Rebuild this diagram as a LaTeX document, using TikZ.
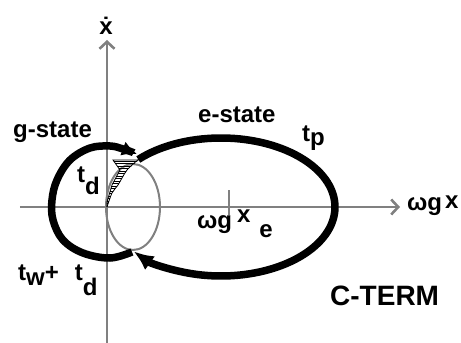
\documentclass[tikz,border=0pt]{standalone}
\usepackage{fontspec}
\setmainfont{Liberation Sans}
\usetikzlibrary{arrows.meta}

\begin{document}
\begin{tikzpicture}[
    x=1pt, y=1pt,
    font=\fontsize{24}{24}\selectfont\bfseries,
    axis/.style={black!50, line width=2.6pt, -{Straight Barb[length=7pt,width=15pt]}},
    guide/.style={black!50, line width=2pt},
    trace/.style={black, line width=7.5pt},
    hatch/.style={black, line width=0.8pt},
    lbl/.style={inner sep=0pt, anchor=base west}
  ]
  \useasboundingbox (-107,-136) rectangle (354,207);
  % axes
  \draw[axis] (-87,0) -- (293,0);
  \draw[axis] (0,-136) -- (0,167);
  \draw[guide, line width=2.6pt] (122,17) -- (122,-8);
  \draw[guide] (26,0) ellipse [x radius=27, y radius=43];
  % hatched strip
  \begin{scope}
    \clip (0,0) -- (0,5) -- (5,22) -- (13,37) -- (6,47) -- (33,48) -- (20,37) -- (11,22) -- (5,14) -- cycle;
    \foreach \h in {1,3.5,...,48} \draw[hatch] (-5,\h) -- (40,\h);
  \end{scope}
  \draw[hatch] (32,47) -- (6,47) -- (13,37) -- (5,22) -- (0,5) -- (0,0);
  \draw[hatch] plot[smooth] coordinates {(0,0) (5,14) (11,22) (20,37) (32,48)};
  % e-state and g-state loops
  \coordinate (ec) at (114,0);
  \draw[trace, -{Latex[length=20pt,width=17pt]}] ([shift={(136.5:114 and 69)}]ec)
    arc[start angle=136.5, end angle=-140, x radius=114, y radius=69];
  \draw[trace, -{Latex[length=15pt,width=15pt]}] plot[smooth, tension=0.6] coordinates {(25,-45) (3,-51) (-24,-46) (-44,-33) (-54,-13) (-55,7) (-50,27) (-37,47) (-17,59) (3,61) (16,58) (30,53)};
  % labels
  \node[lbl, anchor=base] (xdot) at (-1,172) {ẋ};
  \node[lbl] (wgx) at (300,-3) {ωg\hspace{3pt}\raisebox{2pt}{x}};
  \node[lbl] (wgxe) at (90,-21) {ωg\hspace{5pt}\raisebox{6pt}{x}\hspace{9pt}\raisebox{-9pt}{e}};
  \node[lbl] (gstate) at (-94,70) {g-state};
  \node[lbl] (estate) at (91,84) {e-state};
  \node[lbl] (tp) at (195,65) {t\raisebox{-4pt}{p}};
  \node[lbl] (td) at (-30,25) {t\raisebox{-13pt}{d}};
  \node[lbl] (twtd) at (-89,-73) {t\raisebox{-5pt}{w}+\hspace{16pt}t\raisebox{-15pt}{d}};
  \node[lbl, font=\fontsize{28}{28}\selectfont\bfseries] (cterm) at (223,-98) {C-TERM};
\end{tikzpicture}
\end{document}
